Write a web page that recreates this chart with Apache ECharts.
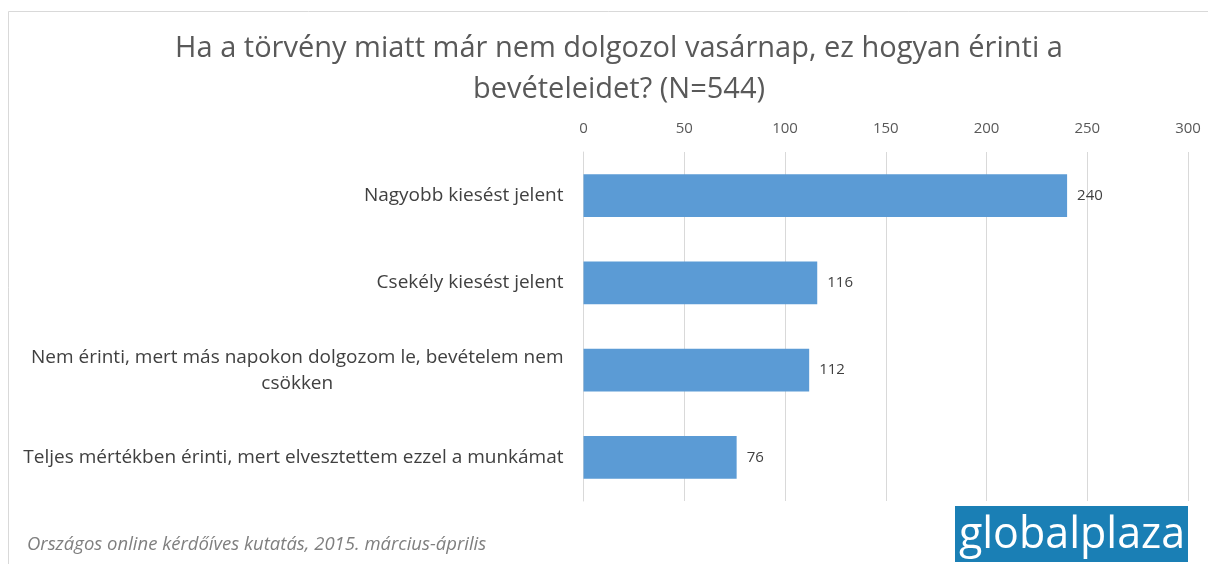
<!DOCTYPE html>
<html>
<head>
<meta charset="utf-8">
<script src="https://cdn.jsdelivr.net/npm/echarts@6/dist/echarts.min.js"></script>
<style>
html,body{margin:0;padding:0;background:#fff;}
#c{width:1208px;height:564px;}
</style>
</head>
<body>
<div id="c"></div>
<script>
var titleText = 'Ha a törvény miatt már nem dolgozol vasárnap, ez hogyan érinti a\nbevételeidet? (N=544)';
var categories = [
  'Nagyobb kiesést jelent',
  'Csekély kiesést jelent',
  'Nem érinti, mert más napokon dolgozom le, bevételem nem csökken',
  'Teljes mértékben érinti, mert elvesztettem ezzel a munkámat'
];
var values = [240, 116, 112, 76];
var axisTicks = [0, 50, 100, 150, 200, 250, 300];
var footnote = 'Országos online kérdőíves kutatás, 2015. március-április';
var logoText = 'globalplaza';

var font = '"Open Sans", sans-serif';
var labelFontSize = 19;
var maxLabelWidth = 550;
var ctx = document.createElement('canvas').getContext('2d');
ctx.font = labelFontSize + 'px "Open Sans"';
function wrap(text) {
  var words = text.split(' '), lines = [], cur = '';
  words.forEach(function (w) {
    var t = cur ? cur + ' ' + w : w;
    if (cur && ctx.measureText(t).width > maxLabelWidth) { lines.push(cur); cur = w; }
    else cur = t;
  });
  if (cur) lines.push(cur);
  return lines.map(function (l) { return '{a|' + l + '}'; }).join('\n');
}

var chart = echarts.init(document.getElementById('c'), null, {renderer:'canvas'});
chart.setOption({
  animation:false,
  backgroundColor:'#fff',
  title:{
    text:titleText,
    left:614, top:23, textAlign:'center',
    textStyle:{fontFamily:font, fontSize:29, fontWeight:'normal', color:'#595959', lineHeight:41}
  },
  grid:{left:583.5, right:20, top:152, bottom:63, containLabel:false},
  xAxis:{
    type:'value', position:'top', min:axisTicks[0], max:axisTicks[axisTicks.length-1], interval:50,
    axisLine:{show:false}, axisTick:{show:false},
    axisLabel:{fontFamily:font, fontSize:15, color:'#595959', margin:16},
    splitLine:{lineStyle:{color:'#d9d9d9', width:1}}
  },
  yAxis:{
    type:'category', inverse:true, data:categories,
    axisLine:{show:true, lineStyle:{color:'#d9d9d9'}}, axisTick:{show:false},
    axisLabel:{
      fontFamily:font, fontSize:labelFontSize, color:'#404040', margin:20, align:'right',
      formatter:wrap,
      rich:{a:{fontFamily:font, fontSize:labelFontSize, color:'#404040', align:'center', lineHeight:26}}
    }
  },
  series:[{
    type:'bar', data:values, barWidth:'49%',
    itemStyle:{color:'#5b9bd5'},
    label:{show:true, position:'right', distance:10, fontFamily:font, fontSize:15, color:'#404040'}
  }],
  graphic:[
    {type:'line', shape:{x1:8.5, y1:11.5, x2:1208, y2:11.5}, style:{stroke:'#d9d9d9', lineWidth:1}},
    {type:'line', shape:{x1:8.5, y1:11.5, x2:8.5, y2:564}, style:{stroke:'#d9d9d9', lineWidth:1}},
    {type:'text', left:27, top:535, style:{text:footnote, fontFamily:font, fontStyle:'italic', fontSize:18.5, fill:'#7f7f7f'}},
    {type:'rect', shape:{x:955, y:506, width:233, height:56}, style:{fill:'#1a7fb5'}},
    {type:'text', x:1072, y:536, style:{text:logoText, fontFamily:font, fontSize:43, fill:'#fff', align:'center', verticalAlign:'middle'}}
  ]
});
</script>
</body>
</html>
